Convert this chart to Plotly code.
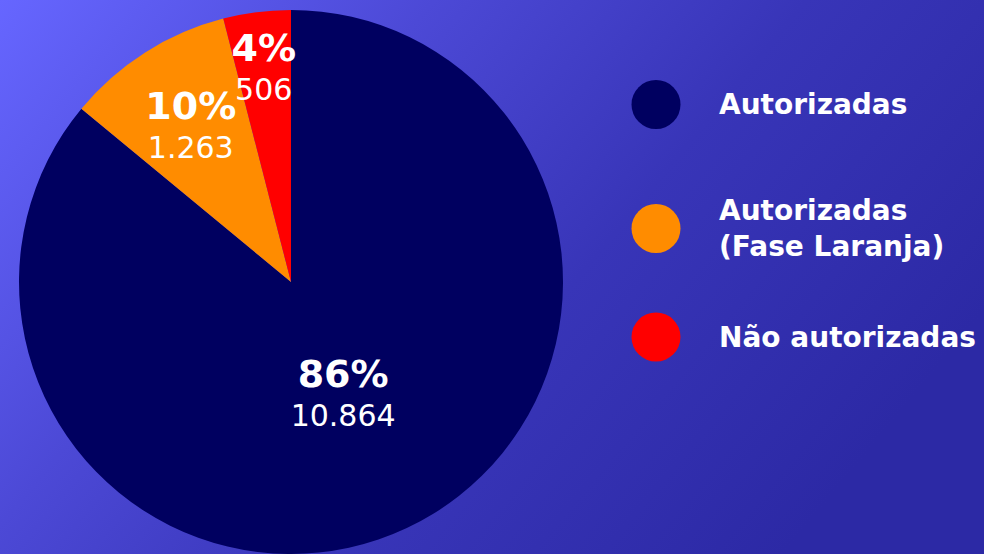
import base64
import plotly.graph_objects as go

labels = ["Autorizadas", "Autorizadas<br>(Fase Laranja)", "Não autorizadas"]
values = [10864, 1263, 506]
colors = ["#000060", "#ff8c00", "#ff0000"]

W, H = 984, 554

svg = f"""<svg xmlns='http://www.w3.org/2000/svg' width='{W}' height='{H}'>
<defs><linearGradient id='g' gradientUnits='userSpaceOnUse' x1='0' y1='0' x2='{W*0.75}' y2='{H*1.1}'>
<stop offset='0' stop-color='#6666ff'/>
<stop offset='0.35' stop-color='#4c49d6'/>
<stop offset='0.65' stop-color='#3835b8'/>
<stop offset='1' stop-color='#2c29a5'/>
</linearGradient></defs>
<rect width='{W}' height='{H}' fill='url(#g)'/></svg>"""
bg = "data:image/svg+xml;base64," + base64.b64encode(svg.encode()).decode()

top_px = 10
r_px = (H - top_px) / 2
cx_px, cy_px = 291, top_px + r_px


def dom(scale):
    rr = r_px * scale
    return dict(x=[(cx_px - rr) / W, (cx_px + rr) / W],
                y=[1 - (cy_px + rr) / H, 1 - (cy_px - rr) / H])


common = dict(labels=labels, values=values, sort=False, direction="clockwise",
              rotation=0, hoverinfo="skip", showlegend=False)

# slices
pie = go.Pie(**common, marker=dict(colors=colors, line=dict(width=0)),
             textinfo="none", domain=dom(1.0))

# label layer (same data, slightly smaller radius so labels sit like the original)
lbl = go.Pie(**common, marker=dict(colors=["rgba(0,0,0,0)"] * len(values), line=dict(width=0)),
             textposition="inside", insidetextorientation="horizontal",
             texttemplate="<span style='font-size:38px'><b>%{percent:.0%}</b></span><br>%{value:,}",
             textfont=dict(family="DejaVu Sans", size=30, color="white"),
             domain=dom(0.9))

fig = go.Figure([pie, lbl])

shapes = []
annotations = []
leg_y = [104.5, 228.5, 337]
cx_leg, rad = 656, 24.5
for lab, col, yy in zip(labels, colors, leg_y):
    shapes.append(dict(type="circle", xref="paper", yref="paper",
                       x0=(cx_leg - rad) / W, x1=(cx_leg + rad) / W,
                       y0=1 - (yy + rad) / H, y1=1 - (yy - rad) / H,
                       fillcolor=col, line=dict(width=0), layer="above"))
    annotations.append(dict(text=f"<b>{lab}</b>", xref="paper", yref="paper",
                            x=717 / W, y=1 - yy / H, xanchor="left", yanchor="middle",
                            align="left", showarrow=False,
                            font=dict(family="DejaVu Sans", size=28, color="white")))

fig.update_layout(
    width=W, height=H,
    margin=dict(l=0, r=0, t=0, b=0),
    paper_bgcolor="#3f3cc4",
    plot_bgcolor="rgba(0,0,0,0)",
    separators=",.",
    uniformtext=dict(minsize=30, mode="show"),
    images=[dict(source=bg, xref="paper", yref="paper", x=0, y=1, sizex=1, sizey=1,
                 sizing="stretch", xanchor="left", yanchor="top", layer="below")],
    shapes=shapes,
    annotations=annotations,
)

fig.write_html("out.html", config={"displayModeBar": False},
               post_script="document.body.style.margin='0';document.body.style.overflow='hidden';")
